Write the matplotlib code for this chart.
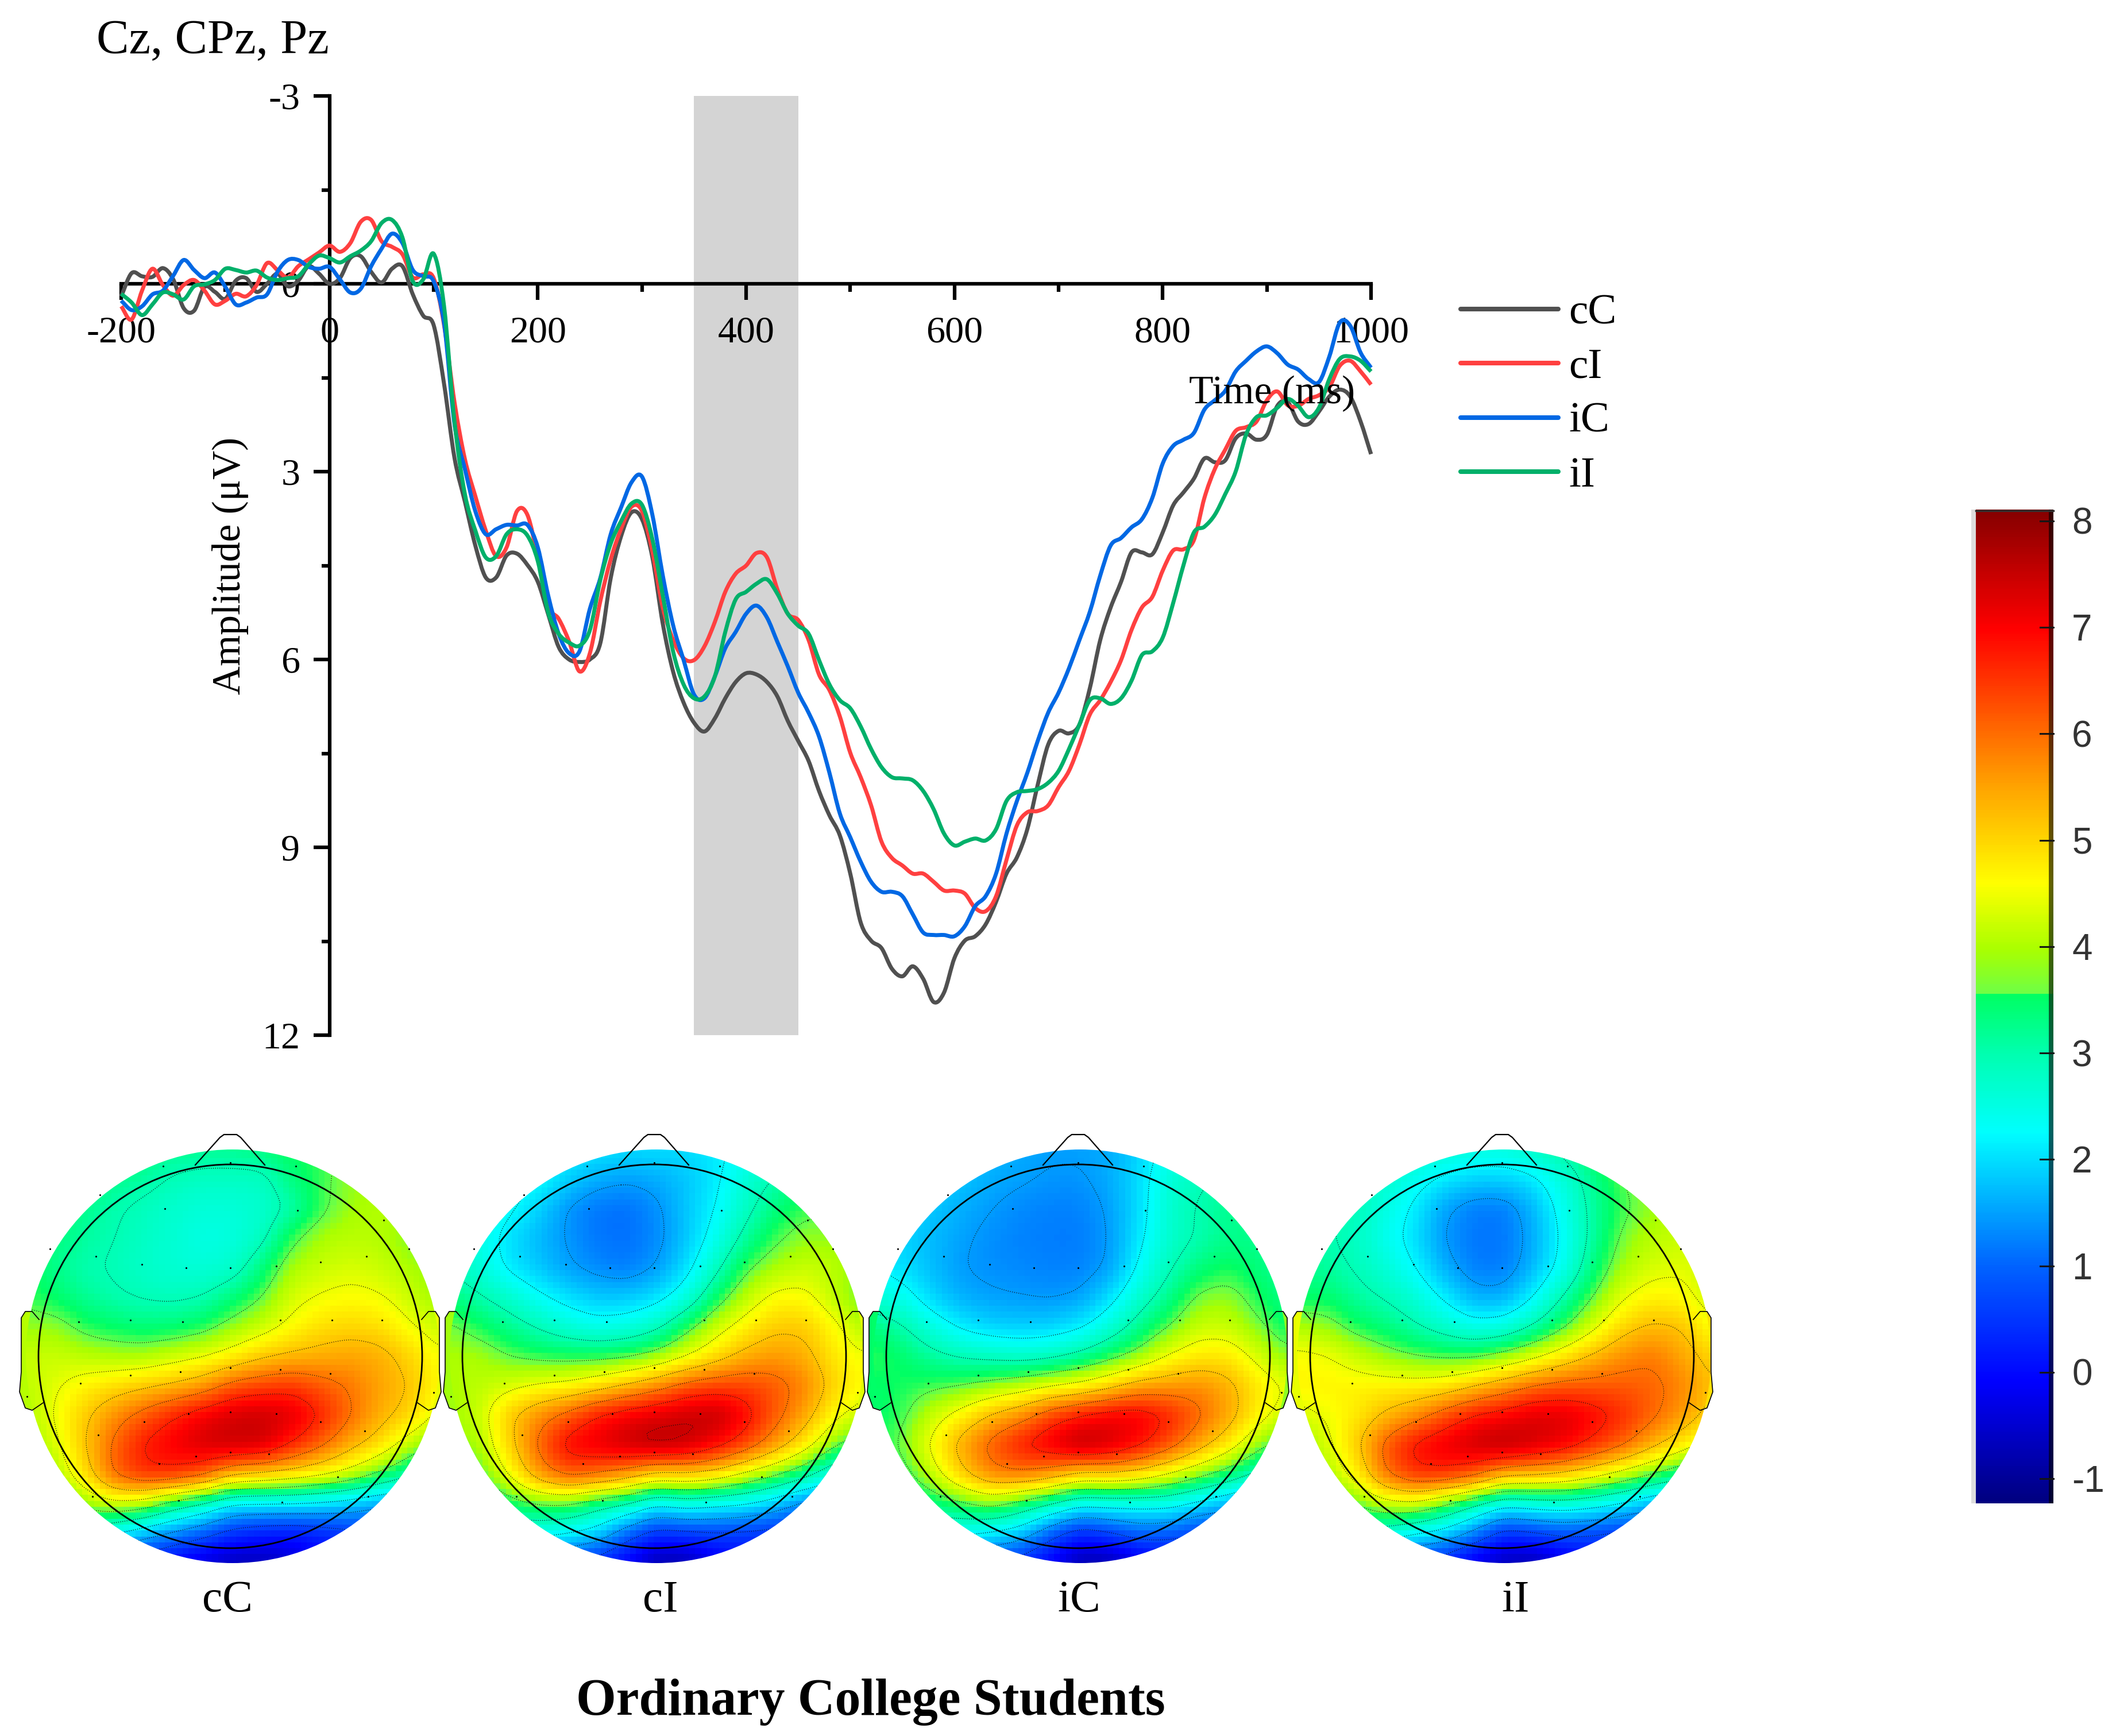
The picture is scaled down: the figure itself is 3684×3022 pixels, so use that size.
import numpy as np
import matplotlib
matplotlib.use("Agg")
import matplotlib.pyplot as plt
from matplotlib.colors import LinearSegmentedColormap
from matplotlib.patches import Circle, PathPatch
from matplotlib.path import Path

plt.rcParams['font.family'] = ['Liberation Serif', 'DejaVu Serif']
plt.rcParams['axes.unicode_minus'] = False

# === ERP waveforms (uV), one value per 10 ms ===
time_ms = list(range(-200, 1001, 10))

cC = [.20,-.17,-.12,-.11,-.25,-.07,.39,.43,.05,.13,
      .24,-.05,-.09,.13,.0,-.16,.04,-.05,-.28,-.16,
      0,-.09,-.41,-.44,-.19,-.02,-.24,-.28,.17,.51,
      .66,1.6,2.78,3.48,4.18,4.69,4.69,4.34,4.31,4.49,
      4.76,5.28,5.80,6.0,6.04,6.0,5.74,4.7,4.03,3.65,
      3.76,4.37,5.43,6.20,6.69,7.01,7.15,6.94,6.62,6.36,
      6.22,6.24,6.36,6.59,6.98,7.30,7.62,8.10,8.49,8.81,
      9.42,10.2,10.49,10.61,10.94,11.06,10.90,11.1,11.47,11.32,
      10.77,10.49,10.42,10.23,9.87,9.42,9.16,8.71,8.0,7.36,
      7.14,7.18,7.04,6.46,5.69,5.17,4.76,4.29,4.29,4.32,
      3.97,3.54,3.33,3.11,2.79,2.85,2.82,2.47,2.39,2.49,
      2.41,1.95,1.89,2.20,2.24,2.04,1.80,1.69,1.80,2.20,2.72]

cI = [.36,.57,.11,-.24,.02,.19,.02,-.06,.11,.33,
      .27,.16,.20,.02,-.33,-.22,-.10,-.28,-.39,-.50,
      -.61,-.51,-.65,-.99,-1.02,-.68,-.59,-.47,-.10,-.15,
      -.09,.66,1.89,2.8,3.39,3.94,4.35,4.21,3.63,3.69,
      4.37,5.15,5.35,5.71,6.19,5.90,5.07,4.40,3.91,3.56,
      3.63,4.27,5.17,5.69,5.98,6.01,5.79,5.40,4.92,4.63,
      4.50,4.30,4.37,4.88,5.27,5.37,5.69,6.24,6.49,6.91,
      7.49,7.88,8.33,8.91,9.17,9.29,9.42,9.42,9.55,9.69,
      9.69,9.74,9.97,10.02,9.78,9.20,8.65,8.44,8.42,8.33,
      8.04,7.78,7.36,6.88,6.65,6.36,6.01,5.53,5.17,5.0,
      4.58,4.26,4.24,4.09,3.42,2.96,2.65,2.35,2.29,2.20,
      1.86,1.72,1.94,1.95,1.84,1.78,1.65,1.31,1.23,1.40,1.61]

iC = [.27,.42,.36,.17,.11,-.13,-.38,-.22,-.09,-.18,
      .05,.33,.30,.22,.17,-.19,-.38,-.38,-.27,-.24,
      -.27,-.07,.14,.08,-.28,-.56,-.80,-.65,-.22,-.12,
      -.04,.63,2.24,2.96,3.63,4.0,3.92,3.85,3.86,3.85,
      4.21,4.98,5.59,5.90,5.87,5.19,4.70,4.0,3.57,3.17,
      3.08,3.69,4.66,5.46,6.01,6.56,6.62,6.27,5.82,5.56,
      5.27,5.14,5.33,5.72,6.11,6.53,6.85,7.23,7.81,8.46,
      8.84,9.23,9.55,9.71,9.71,9.78,10.07,10.36,10.40,10.40,
      10.42,10.26,9.94,9.78,9.42,8.78,8.26,7.81,7.30,6.85,
      6.53,6.14,5.69,5.24,4.66,4.18,4.06,3.89,3.76,3.42,
      2.87,2.59,2.49,2.38,2.01,1.86,1.71,1.40,1.23,1.08,
      1.00,1.11,1.29,1.37,1.52,1.57,1.16,.62,.67,1.10,1.34]

iI = [.16,.30,.50,.33,.14,.17,.25,.04,.01,-.06,
      -.24,-.22,-.18,-.21,-.10,-.06,-.09,-.12,-.31,-.45,
      -.41,-.34,-.44,-.53,-.68,-.97,-1.02,-.74,-.04,-.07,
      -.48,.36,2.2,3.36,3.94,4.37,4.35,4.0,3.92,4.02,
      4.43,5.25,5.59,5.73,5.78,5.53,4.73,4.15,3.79,3.51,
      3.53,4.08,4.98,5.88,6.40,6.62,6.59,6.27,5.56,5.04,
      4.92,4.79,4.72,4.95,5.27,5.46,5.59,6.01,6.40,6.65,
      6.78,7.07,7.43,7.72,7.88,7.90,7.93,8.10,8.39,8.78,
      8.97,8.91,8.86,8.89,8.71,8.26,8.12,8.10,8.07,7.97,
      7.78,7.43,7.04,6.65,6.62,6.71,6.62,6.34,5.93,5.87,
      5.65,5.1,4.49,3.97,3.88,3.69,3.36,3.0,2.41,2.13,
      2.10,1.98,1.84,1.95,2.13,1.98,1.52,1.20,1.16,1.23,1.40]

series_names = ["cC", "cI", "iC", "iI"]
series_values = [cC, cI, iC, iI]
series_colors = ["#505050", "#FF4040", "#0068E4", "#00B06A"]

x_ticks = [-200, 0, 200, 400, 600, 800, 1000]
y_ticks = [-3, 0, 3, 6, 9, 12]

topo_cC = [
    [3.4,3.4,3.4,3.4,3.3,3.2,3.2,3.2,3.3,3.5,3.6,3.8,3.9,3.9,3.9],
    [3.3,3.3,3.3,3.2,3.1,2.9,2.8,2.8,2.8,3.3,3.6,3.9,4.0,4.0,4.0],
    [3.3,3.3,3.2,3.0,2.85,2.7,2.6,2.6,2.7,3.0,3.6,3.95,4.05,4.0,4.0],
    [3.4,3.3,3.1,2.95,2.8,2.65,2.5,2.55,2.8,3.6,4.0,4.1,4.05,3.8,3.8],
    [3.5,3.2,3.0,2.9,2.75,2.65,2.6,2.7,3.3,4.0,4.2,4.3,4.2,4.0,3.8],
    [3.6,3.4,3.15,3.0,2.9,2.85,2.95,3.3,3.7,4.3,4.5,4.6,4.5,4.2,3.9],
    [3.9,3.9,3.55,3.4,3.3,3.35,3.5,3.9,4.2,4.6,4.9,5.0,4.9,4.5,4.2],
    [4.2,4.2,4.1,4.0,4.0,4.2,4.4,4.7,5.1,5.3,5.4,5.5,5.4,5.0,4.5],
    [4.1,4.4,4.7,4.9,5.1,5.3,5.6,6.2,6.4,6.5,6.2,5.9,5.5,5.2,4.6],
    [4.0,4.5,5.1,5.7,6.2,6.7,7.1,7.4,7.5,7.3,6.7,6.0,5.4,5.0,4.3],
    [3.9,4.3,5.2,6.1,6.8,7.1,7.4,7.5,7.4,6.7,6.1,5.4,4.9,4.1,3.6],
    [3.4,4.0,4.9,6.1,6.6,6.6,6.2,5.3,5.1,4.9,4.6,4.2,3.6,3.0,2.5],
    [3.0,3.4,3.9,4.3,4.1,3.3,2.8,2.1,2.1,2.1,2.0,1.8,1.5,1.5,1.5],
    [2.8,2.8,2.7,2.2,1.7,1.3,0.9,0.4,0.2,0.1,0.3,0.5,0.6,.6,.6],
    [.8,.8,.8,.5,.2,-.2,-.5,-.8,-.8,-.5,-.2,0,.1,.1,.1],
]
topo_cI = [
    [2.2,2.2,2.2,2.2,2.2,2.1,2.0,2.0,2.0,2.1,2.3,2.5,2.6,2.6,2.6],
    [2.4,2.4,2.4,2.3,1.9,1.6,1.5,1.6,1.8,2.1,2.6,3.0,3.3,3.4,3.4],
    [2.6,2.6,2.3,1.9,1.4,1.15,1.1,1.35,1.8,2.2,2.8,3.3,3.6,3.6,3.6],
    [2.6,2.5,2.0,1.7,1.4,1.15,1.1,1.3,1.8,2.4,3.1,3.6,3.9,3.9,3.7],
    [2.9,2.6,2.1,1.8,1.5,1.3,1.2,1.45,2.0,2.8,3.6,4.0,4.2,4.1,3.8],
    [3.3,3.0,2.7,2.3,2.0,1.8,1.8,2.0,2.5,3.4,4.1,4.6,4.6,4.1,3.7],
    [3.8,3.5,3.2,2.9,2.6,2.4,2.5,2.8,3.5,4.2,4.7,5.1,5.1,4.6,4.0],
    [4.0,4.0,3.7,3.55,3.5,3.5,3.6,3.9,4.4,4.9,5.4,5.6,5.4,4.8,4.5],
    [4.0,4.1,4.3,4.5,4.6,4.9,5.3,5.7,6.2,6.4,6.4,6.2,5.8,5.0,4.6],
    [3.9,4.2,5.1,5.7,6.2,6.8,7.1,7.3,7.5,7.6,7.0,6.2,5.5,4.6,4.2],
    [3.8,4.0,5.0,6.1,7.0,7.2,7.5,7.7,7.5,7.0,6.4,5.6,4.8,3.8,3.3],
    [3.4,3.6,4.5,5.6,6.2,6.0,5.6,5.0,5.1,4.9,4.3,3.8,3.2,2.4,2.2],
    [3.0,3.0,3.4,3.7,3.7,3.2,2.9,2.2,2.5,2.3,2.2,1.8,1.2,1.2,1.2],
    [2.5,2.4,2.4,2.4,2.2,1.9,1.0,.4,.5,.6,.5,.4,.4,.4,.4],
    [1.0,1.0,1.0,.9,.6,.3,-.2,-.9,-.9,-.3,0,.1,.1,.1,.1],
]
topo_iC = [
    [1.9,1.9,1.9,1.8,1.7,1.6,1.5,1.5,1.6,1.9,2.4,2.6,2.8,2.8,2.8],
    [1.9,1.9,1.9,1.8,1.6,1.5,1.4,1.4,1.6,2.0,2.6,2.9,3.0,3.1,3.1],
    [2.0,2.0,1.8,1.6,1.45,1.3,1.25,1.25,1.5,2.0,2.7,3.0,3.2,3.2,3.2],
    [2.0,1.9,1.7,1.5,1.35,1.25,1.2,1.2,1.45,2.1,2.7,3.0,3.2,3.2,3.1],
    [2.2,2.0,1.7,1.45,1.35,1.3,1.25,1.25,1.5,2.3,2.9,3.3,3.5,3.3,3.1],
    [2.6,2.4,1.9,1.6,1.5,1.45,1.4,1.5,2.0,2.7,3.2,3.8,3.9,3.5,3.2],
    [3.3,3.0,2.5,2.1,1.9,1.85,1.9,2.1,2.6,3.2,3.7,4.2,4.2,3.8,3.4],
    [3.6,3.4,3.1,2.9,2.8,2.7,2.8,3.1,3.5,3.9,4.5,4.8,4.8,4.3,3.8],
    [3.4,3.5,3.6,3.7,3.9,4.1,4.4,4.6,5.0,5.5,5.6,5.7,5.4,4.8,4.4],
    [3.4,3.6,4.2,4.7,5.3,5.7,6.4,6.8,7.1,7.1,6.7,6.1,5.5,4.7,4.2],
    [3.4,3.8,4.6,5.5,6.2,6.8,7.2,7.7,7.4,6.9,6.3,5.5,4.8,3.9,3.4],
    [3.2,3.5,4.2,5.1,5.8,5.9,5.6,5.0,5.1,4.9,4.4,3.9,3.4,2.8,2.5],
    [3.0,3.0,3.3,3.6,3.9,3.4,2.9,2.3,2.4,2.4,2.4,2.0,1.6,1.3,1.3],
    [2.5,2.5,2.4,2.3,2.1,1.8,0.9,0.3,0.6,1.0,0.9,0.6,0.6,.6,.6],
    [1,1,1,.9,.6,.3,-.2,-.9,-.9,-.4,-.1,.1,.2,.2,.2],
]
topo_iI = [
    [2.8,2.8,2.8,2.8,2.8,2.7,2.6,2.6,2.8,3.1,3.5,3.9,4.0,4.0,4.0],
    [2.9,2.9,2.9,2.7,2.4,2.1,1.9,1.9,2.1,2.6,3.2,3.7,4.0,4.0,4.0],
    [3.0,3.0,2.9,2.5,2.1,1.5,1.2,1.2,1.7,2.4,3.1,3.6,3.9,4.1,4.1],
    [3.1,3.0,2.8,2.4,2.0,1.4,1.15,1.15,1.6,2.3,3.1,3.8,4.1,4.2,4.2],
    [3.2,3.1,2.9,2.6,2.2,1.6,1.2,1.2,1.7,2.4,3.3,4.0,4.3,4.4,4.2],
    [3.4,3.4,3.1,2.9,2.6,2.1,1.6,1.6,2.2,3.0,3.7,4.4,4.7,4.6,4.2],
    [4.0,3.9,3.5,3.3,3.0,2.7,2.4,2.5,3.0,3.6,4.3,5.0,5.3,5.2,4.5],
    [4.6,4.5,4.2,3.9,3.7,3.6,3.6,3.9,4.3,4.8,5.3,5.7,5.9,5.5,5.0],
    [4.7,4.7,4.7,4.7,4.7,4.8,5.2,5.6,6.0,6.2,6.2,6.2,6.1,5.8,5.2],
    [4.3,4.5,4.8,5.3,5.7,6.3,6.8,7.0,7.3,7.3,7.0,6.6,6.1,5.6,5.0],
    [3.8,4.3,5.1,6.2,6.9,7.2,7.5,7.7,7.4,7.1,6.6,6.1,5.4,4.8,4.2],
    [3.6,4.0,4.7,6.0,6.6,6.6,6.2,5.4,5.3,5.1,4.7,4.2,3.7,3.2,2.8],
    [3.2,3.4,3.7,4.2,4.3,3.7,3.0,2.3,2.5,2.6,2.4,2.1,1.6,1.4,1.4],
    [2.8,2.8,2.8,2.6,2.2,1.9,1.2,0.4,0.6,0.8,0.7,0.5,.5,.5,.5],
    [.8,.8,.8,.7,.5,.2,-.4,-.8,-.9,-.4,-.1,0,.1,.1,.1],
]
topo_maps = [topo_cC, topo_cI, topo_iC, topo_iI]
topo_label_x = [396, 1150, 1879, 2639]

# electrode positions relative to the head circle (radius = 1)
electrodes = [(0,-1.01),(-.35,-.99),(.34,-.99),(.80,-.71),(-.68,-.84),(-.34,-.77),(.35,-.76),
              (-.94,-.56),(-.70,-.52),(-.46,-.48),(-.23,-.46),(0,-.46),(.24,-.47),(.47,-.49),
              (.71,-.52),(.93,-.56),(-.79,-.18),(-.52,-.19),(-.25,-.18),(.26,-.19),(.53,-.19),
              (.79,-.19),(-.78,.14),(-.52,.10),(-.26,.08),(0,.06),(.26,.07),(.52,.09),(-.69,.41),
              (-.45,.34),(-.22,.30),(0,.29),(.24,.30),(.47,.34),(.70,.39),(-.37,.56),(-.18,.52),
              (0,.50),(.20,.51),(.56,.63),(-.27,.75),(-.72,.73),(.27,.76),(.72,.73),(-1.06,.21),(1.06,.19)]

cbar_ticks = [-1, 0, 1, 2, 3, 4, 5, 6, 7, 8]
cbar_min, cbar_max = -1.23, 8.11
contour_levels = [0.7, 1.45, 2.2, 2.95, 3.7, 4.45, 5.2, 5.95, 6.7, 7.45]


# colour scale of the figure; the printed bar has a hard jump near 3.55, the maps a soft one
def make_cmap(jump_low, jump_high):
    stops = [(-1.23, (0, 0, 128)), (-0.1, (0, 0, 255)), (1.0, (0, 100, 255)), (2.25, (0, 255, 255)),
             (3.0, (0, 255, 175)), (jump_low, (0, 255, 100)), (jump_high, (110, 255, 70)), (3.98, (170, 255, 0)),
             (4.6, (255, 255, 0)), (5.5, (255, 165, 0)), (7.0, (255, 0, 0)), (8.11, (135, 0, 0))]
    return LinearSegmentedColormap.from_list(
        "topo",
        [((v - cbar_min) / (cbar_max - cbar_min), tuple(c / 255 for c in rgb)) for v, rgb in stops],
        N=512,
    )


bar_cmap = make_cmap(3.54, 3.56)
topo_cmap = make_cmap(3.45, 3.75)

W, H = 3684, 3022
fig = plt.figure(figsize=(W / 100, H / 100), dpi=100, facecolor="white")


def px_axes(left, top, right, bottom):
    return fig.add_axes([left / W, 1 - bottom / H, (right - left) / W, (bottom - top) / H])


def curve_through(xs, ys):
    # bezier path that passes through every read value
    x = np.asarray(xs, dtype=float)
    y = np.asarray(ys, dtype=float)
    dx = np.gradient(x)
    dy = np.gradient(y)
    verts = [(x[0], y[0])]
    codes = [Path.MOVETO]
    for i in range(len(x) - 1):
        verts.append((x[i] + dx[i] / 3, y[i] + dy[i] / 3))
        verts.append((x[i + 1] - dx[i + 1] / 3, y[i + 1] - dy[i + 1] / 3))
        verts.append((x[i + 1], y[i + 1]))
        codes += [Path.CURVE4, Path.CURVE4, Path.CURVE4]
    return Path(verts, codes)


# 1) ERP panel
ax = px_axes(211, 167, 2387, 1802)
ax.set_xlim(-200, 1000)
ax.set_ylim(12, -3)
ax.patch.set_visible(False)
ax.set_axisbelow(True)
for side in ["top", "right"]:
    ax.spines[side].set_visible(False)
ax.spines["left"].set_position(("data", 0))
ax.spines["bottom"].set_position(("data", 0))
for side in ["left", "bottom"]:
    ax.spines[side].set_linewidth(4.5)
    ax.spines[side].set_zorder(1)

ax.axvspan(350, 450, color="#D4D4D4", lw=0, zorder=0.1)
for name, vals, col in zip(series_names, series_values, series_colors):
    ax.add_patch(PathPatch(curve_through(time_ms, vals), fc="none", ec=col, lw=5.0,
                           joinstyle="round", capstyle="butt", zorder=3, clip_on=False))

ax.set_xticks(x_ticks)
ax.set_xticklabels([str(t) for t in x_ticks])
ax.set_yticks(y_ticks)
ax.set_yticklabels([str(t) for t in y_ticks])
ax.set_xticks(list(range(-100, 1000, 200)), minor=True)
ax.set_yticks([-1.5, 1.5, 4.5, 7.5, 10.5], minor=True)
ax.tick_params(axis="both", which="major", direction="out", length=20, width=4.5, labelsize=47.5)
ax.tick_params(axis="both", which="minor", direction="out", length=10, width=4.5)
ax.tick_params(axis="x", which="major", pad=20)
ax.tick_params(axis="y", which="major", pad=17)
ax.text(905, 1.76, "Time (ms)", fontsize=50, ha="center", va="center", zorder=5)

# 2) everything else sits on a canvas measured in image pixels
canvas = fig.add_axes([0, 0, 1, 1])
canvas.patch.set_visible(False)
canvas.axis("off")

canvas.text(168, 93, "Cz, CPz, Pz", fontsize=61, ha="left", va="baseline")
canvas.text(401, 985, "Amplitude (\u03bcV)", fontsize=50, rotation=90, ha="center", va="center")

# legend
legend_y = [538, 632, 727, 821]
legend_base = [563, 658, 752, 847]
for name, col, ly, base in zip(series_names, series_colors, legend_y, legend_base):
    canvas.plot([2543, 2713], [ly, ly], color=col, lw=5.8, solid_capstyle="round")
    canvas.text(2731, base, name, fontsize=54, ha="left", va="baseline")


def smooth_grid(grid, factor=5):
    grid = np.asarray(grid, dtype=float)
    n = grid.shape[0]
    coarse = np.arange(n)
    fine = np.linspace(0, n - 1, (n - 1) * factor + 1)
    rows = np.array([np.interp(fine, coarse, r) for r in grid])
    out = np.array([np.interp(fine, coarse, c) for c in rows.T]).T
    for _ in range(3):
        pad = np.pad(out, 1, mode="edge")
        out = sum(pad[1 + i:pad.shape[0] - 1 + i, 1 + j:pad.shape[1] - 1 + j]
                  for i in (-1, 0, 1) for j in (-1, 0, 1)) / 9
    return out


# 3) scalp maps
head_x = [401, 1139, 1877, 2615]
head_y = 2361
head_r = 334
disc_r = 360
nose = [(-61, -333), (-18, -381), (-11, -386), (11, -386), (18, -381), (60, -333)]
ear = [(-333, -64), (-345, -78), (-357, -78), (-364, -67), (-364, 27), (-367, 62),
       (-357, 90), (-345, 94), (-326, 81)]
ear_rows = [6, 7, 8]   # grid rows level with the ears

for hx, grid, name, lx in zip(head_x, topo_maps, series_names, topo_label_x):
    cx = hx + 4
    z = smooth_grid(grid)
    n = z.shape[0]
    disc = Circle((cx, head_y), disc_r, transform=canvas.transData, fc="none", ec="none")
    canvas.add_patch(disc)
    half = disc_r / (n - 1)
    # ears take the colour of the scalp edge next to them
    left_val = np.mean([grid[r][0] for r in ear_rows])
    right_val = np.mean([grid[r][-1] for r in ear_rows])
    span = cbar_max - cbar_min
    canvas.fill([hx + p[0] for p in ear], [head_y + p[1] for p in ear],
                color=topo_cmap((left_val - cbar_min) / span), lw=0, zorder=0.9)
    canvas.fill([hx - p[0] for p in ear], [head_y + p[1] for p in ear],
                color=topo_cmap((right_val - cbar_min) / span), lw=0, zorder=0.9)
    im = canvas.imshow(z, cmap=topo_cmap, vmin=cbar_min, vmax=cbar_max, interpolation="nearest",
                       extent=(cx - disc_r - half, cx + disc_r + half, head_y + disc_r + half, head_y - disc_r - half),
                       aspect="auto", zorder=1)
    im.set_clip_path(disc)
    gx = np.linspace(cx - disc_r, cx + disc_r, n)
    gy = np.linspace(head_y - disc_r, head_y + disc_r, n)
    cs = canvas.contour(gx, gy, z, levels=contour_levels, colors="#111111", linewidths=0.9,
                        linestyles=[(0, (1, 2))], zorder=2)
    cs.set_clip_path(disc)

    canvas.add_patch(Circle((hx, head_y), head_r, fc="none", ec="black", lw=2.0, zorder=4))
    canvas.plot([hx + p[0] for p in nose], [head_y + p[1] for p in nose], color="black", lw=1.6, zorder=4)
    canvas.plot([hx + p[0] for p in ear], [head_y + p[1] for p in ear], color="black", lw=1.2, zorder=4)
    canvas.plot([hx - p[0] for p in ear], [head_y + p[1] for p in ear], color="black", lw=1.2, zorder=4)
    canvas.scatter([hx + e[0] * head_r for e in electrodes], [head_y + e[1] * head_r for e in electrodes],
                   s=5, color="black", lw=0, zorder=3)
    canvas.text(lx, 2805, name, fontsize=57, ha="center", va="baseline")

canvas.text(1516, 2985, "Ordinary College Students", fontsize=64.5, fontweight="bold",
            ha="center", va="baseline")

# 4) colour bar
cb_top, cb_bottom = 887, 2617
tick_8, tick_m1 = 907, 2574
unit = (tick_m1 - tick_8) / 9
gradient = np.linspace(cbar_max, cbar_min, 400).reshape(-1, 1)
canvas.imshow(gradient, cmap=bar_cmap, vmin=cbar_min, vmax=cbar_max, aspect="auto",
              extent=(3440, 3575, cb_bottom, cb_top), zorder=1)
canvas.fill_between([3432, 3440], cb_top, cb_bottom, color="#DDDDDD", lw=0, zorder=1)
canvas.fill_between([3567, 3575], cb_top, cb_bottom, color="black", alpha=0.62, lw=0, zorder=2)
canvas.plot([3440, 3575], [cb_top + 2, cb_top + 2], color="#303030", lw=2.5, zorder=3)
for t in cbar_ticks:
    ty = tick_8 + (8 - t) * unit
    canvas.plot([3552, 3575], [ty, ty], color="#151515", lw=2.2, zorder=3)
    canvas.text(3607, ty + 6, str(t), family=["Liberation Sans", "DejaVu Sans"], fontsize=46,
                color="#333333", ha="left", va="center")

canvas.set_xlim(0, W)
canvas.set_ylim(H, 0)

fig.savefig("out.png", dpi=100, facecolor="white")
